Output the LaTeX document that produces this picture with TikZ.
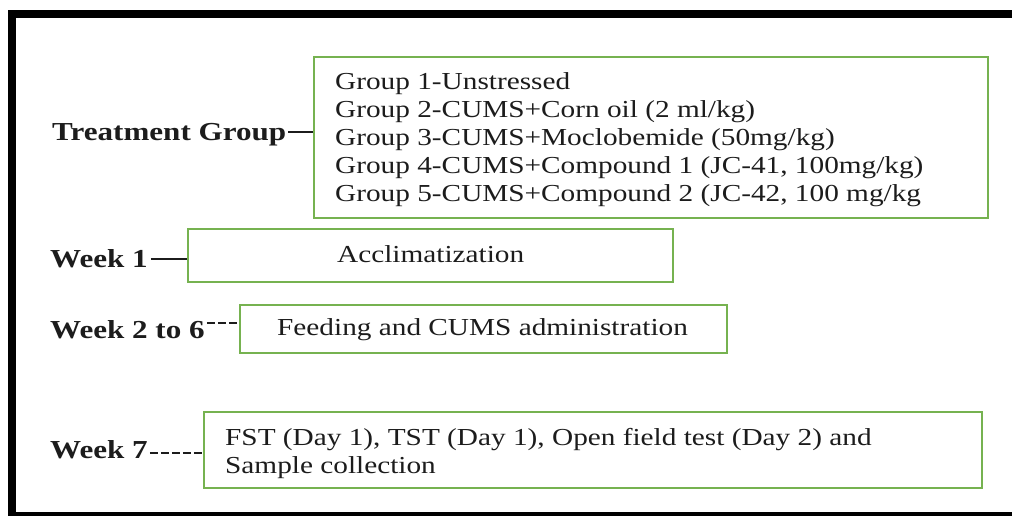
\documentclass[tikz,border=0pt]{standalone}
\usepackage{fontspec}
\setmainfont{Liberation Serif}[FakeStretch=1.2]
\definecolor{boxgreen}{RGB}{118,178,80}
\definecolor{ink}{RGB}{28,28,28}
\begin{document}
\begin{tikzpicture}[x=1pt,y=-1pt,
  gbox/.style={draw=boxgreen, line width=2pt, rectangle, inner sep=0pt, fill=none},
  txt/.style={anchor=base west, inner sep=0pt, text=ink, font=\fontsize{24.4}{28}\selectfont},
  lbl/.style={txt, font=\fontsize{25.9}{28}\selectfont\bfseries},
  conn/.style={draw=ink, line width=1.3pt},
  dconn/.style={conn, dash pattern=on 8pt off 3pt}]
\useasboundingbox (0,0) rectangle (1012,515);
\clip (0,0) rectangle (1012,515);
\fill[white] (0,0) rectangle (1012,515);
% outer frame
\draw[line width=8pt, black] (12,14) rectangle (1030,516);
% boxes
\node[gbox, minimum width=674pt, minimum height=161pt] (tg) at (651,137.5) {};
\node[gbox, minimum width=485pt, minimum height=53pt] (w1) at (430.5,255.5) {};
\node[gbox, minimum width=487pt, minimum height=48pt] (w2) at (483.5,329) {};
\node[gbox, minimum width=778pt, minimum height=76pt] (w7) at (593,450) {};
% box texts
\node[txt] (g1) at (335,89) {Group 1-Unstressed};
\node[txt] (g2) at (335,117) {Group 2-CUMS+Corn oil (2 ml/kg)};
\node[txt] (g3) at (335,145) {Group 3-CUMS+Moclobemide (50mg/kg)};
\node[txt] (g4) at (335,173) {Group 4-CUMS+Compound 1 (JC-41, 100mg/kg)};
\node[txt] (g5) at (335,201) {Group 5-CUMS+Compound 2 (JC-42, 100 mg/kg};
\node[txt] (t1) at (337,262) {Acclimatization};
\node[txt] (t2) at (277,335) {Feeding and CUMS administration};
\node[txt] (t7a) at (225,445) {FST (Day 1), TST (Day 1), Open field test (Day 2) and};
\node[txt] (t7b) at (225,473) {Sample collection};
% labels
\node[lbl] (ltg) at (52,140) {Treatment Group};
\node[lbl] (lw1) at (50,267) {Week 1};
\node[lbl] (lw2) at (50,338) {Week 2 to 6};
\node[lbl] (lw7) at (50,458) {Week 7};
% connectors
\draw[conn] ([xshift=2pt,yshift=8pt]ltg.base east) -- ([yshift=8pt]ltg.base east -| tg.west);
\draw[conn] ([xshift=3pt,yshift=8pt]lw1.base east) -- ([yshift=8pt]lw1.base east -| w1.west);
\draw[dconn] ([xshift=2pt,yshift=15pt]lw2.base east) -- ([yshift=15pt]lw2.base east -| w2.west);
\draw[dconn] ([xshift=2pt,yshift=5pt]lw7.base east) -- ([yshift=5pt]lw7.base east -| w7.west);
\end{tikzpicture}
\end{document}
